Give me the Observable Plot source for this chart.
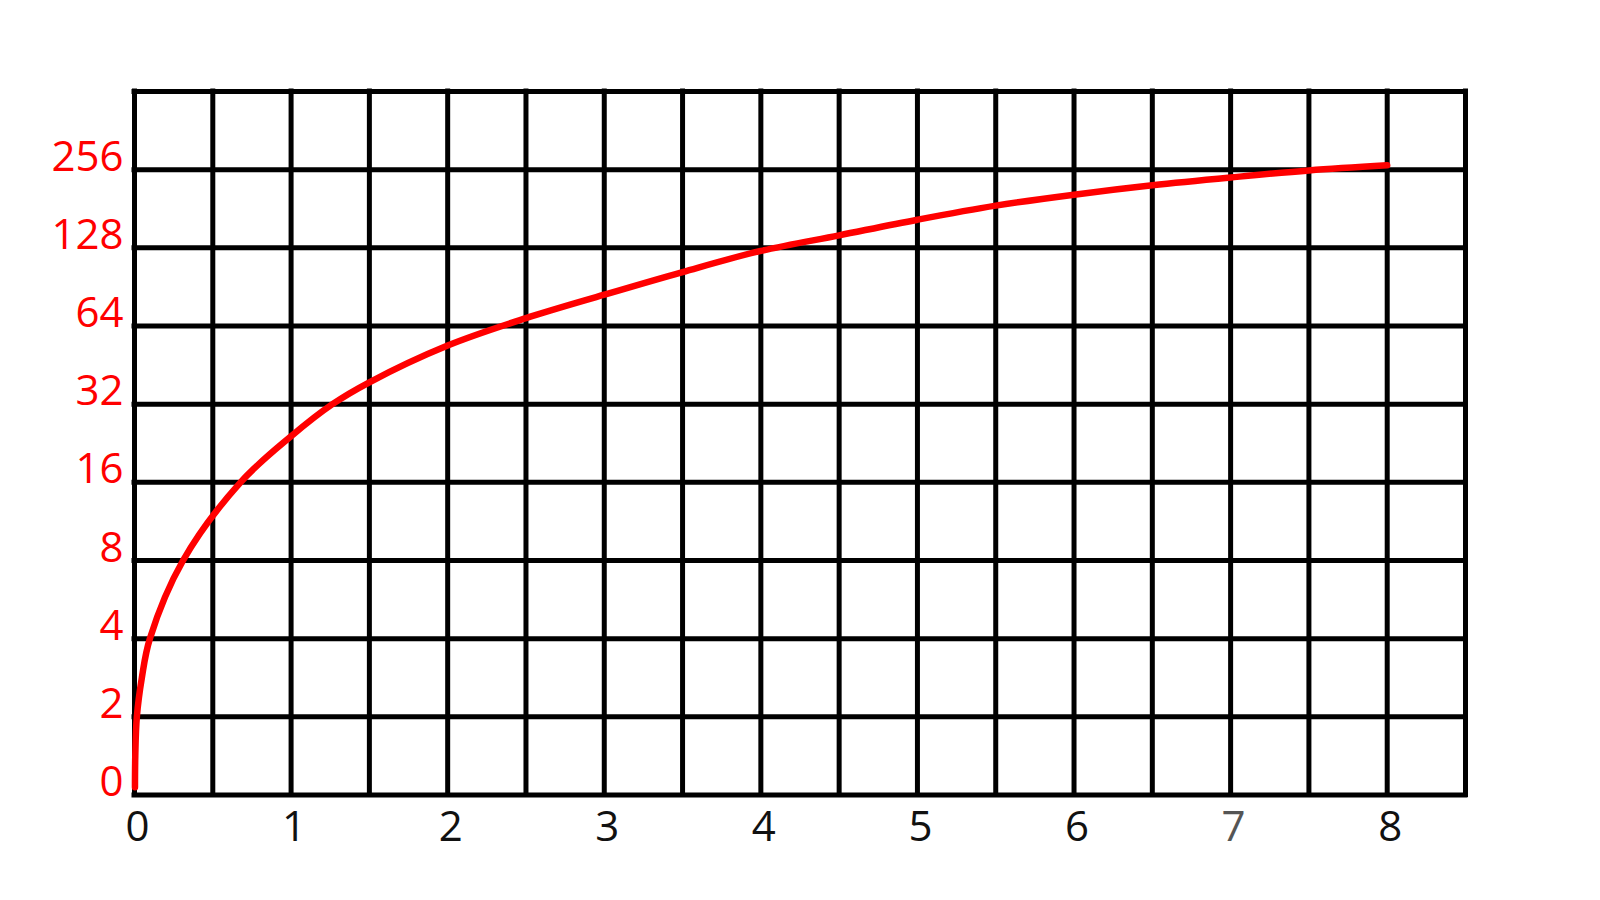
<!DOCTYPE html>
<html>
<head>
<meta charset="utf-8">
<script src="https://cdn.jsdelivr.net/npm/d3@7"></script>
<script src="https://cdn.jsdelivr.net/npm/@observablehq/plot@0.6"></script>
<style>
  html, body { margin: 0; padding: 0; background: #fff; }
  svg { display: block; }
</style>
</head>
<body>
<div id="chart"></div>
<script>
// Curve: x value and vertical grid position (0 = "0", 8 = "256")
const curveX   = [0.003, 0.005, 0.015, 0.047, 0.098, 0.31, 0.677, 1.0, 1.264, 1.5, 2.0, 2.5, 3.0, 3.5, 4.0, 4.5, 5.0, 5.5, 6.0, 6.5, 7.0, 7.5, 8.0];
const curvePos = [0.10, 0.50, 1.00, 1.50, 2.00, 3.00, 4.00, 4.59, 5.00, 5.28, 5.75, 6.10, 6.40, 6.69, 6.96, 7.16, 7.36, 7.54, 7.68, 7.80, 7.90, 7.99, 8.055];

// Axis ticks
const xTickValues = [0, 1, 2, 3, 4, 5, 6, 7, 8];
const xTickLabels = ["0", "1", "2", "3", "4", "5", "6", "7", "8"];
const xTickColors = ["#111", "#111", "#111", "#111", "#111", "#111", "#111", "#555", "#111"];
const yTickPositions = [0, 1, 2, 3, 4, 5, 6, 7, 8];
const yTickLabels = ["0", "2", "4", "8", "16", "32", "64", "128", "256"];

// Grid lines
const xGrid = [0, 0.5, 1, 1.5, 2, 2.5, 3, 3.5, 4, 4.5, 5, 5.5, 6, 6.5, 7, 7.5, 8, 8.5];
const yGrid = [0, 1, 2, 3, 4, 5, 6, 7, 8, 9];

const points = curveX.map((x, i) => ({x, y: curvePos[i]}));

const chart = Plot.plot({
  width: 1600,
  height: 900,
  marginLeft: 134,
  marginRight: 135,
  marginTop: 91,
  marginBottom: 105.5,
  x: {domain: [0, 8.5], axis: null},
  y: {domain: [0, 9], axis: null},
  color: {type: "identity"},
  style: {fontFamily: "'Open Sans', sans-serif", background: "#fff", overflow: "visible"},
  marks: [
    Plot.ruleX(xGrid, {x: d => d, stroke: "#000", strokeWidth: 5, strokeLinecap: "square"}),
    Plot.ruleY(yGrid, {y: d => d, stroke: "#000", strokeWidth: 5, strokeLinecap: "square"}),
    Plot.line(points, {x: "x", y: "y", stroke: "#ff0000", strokeWidth: 6.5, curve: "catmull-rom", strokeLinecap: "round", strokeLinejoin: "round"}),
    Plot.text(yTickPositions, {
      y: d => d, text: (d, i) => yTickLabels[i],
      frameAnchor: "left", textAnchor: "end", lineAnchor: "bottom",
      dx: -11, dy: 1, fill: "#ff0000", fontSize: 42
    }),
    Plot.text(xTickValues, {
      x: d => d, text: (d, i) => xTickLabels[i], fill: (d, i) => xTickColors[i],
      frameAnchor: "bottom", lineAnchor: "bottom",
      dx: 3, dy: 46, fontSize: 42
    })
  ]
});

document.getElementById("chart").appendChild(chart);
</script>
</body>
</html>
